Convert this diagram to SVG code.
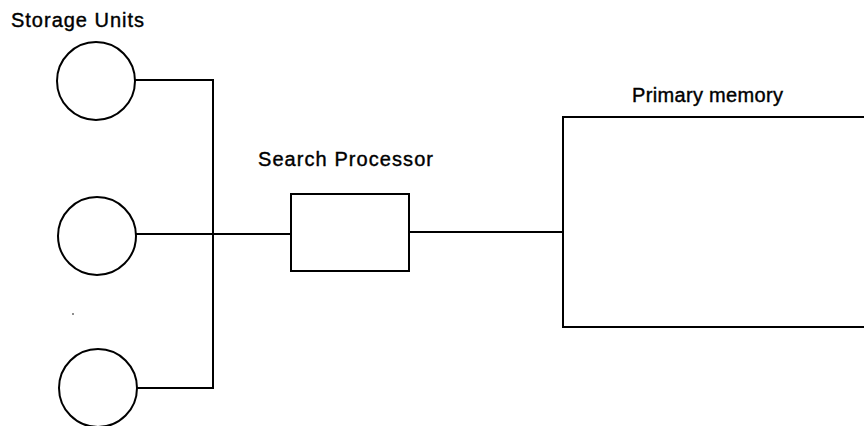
<svg xmlns="http://www.w3.org/2000/svg" width="864" height="426" viewBox="0 0 864 426">
<style>
.s{fill:none;stroke:#000;stroke-width:2}
.t{font-family:"Liberation Sans",Arial,sans-serif;font-size:20px;fill:#000;stroke:#000;stroke-width:0.4}
</style>
<rect width="864" height="426" fill="#fff"/>
<text class="t" x="11" y="27" textLength="133" lengthAdjust="spacing">Storage Units</text>
<g id="storage1"><circle class="s" cx="96" cy="81" r="39"/></g>
<g id="storage2"><circle class="s" cx="97" cy="236" r="39"/></g>
<g id="storage3"><circle class="s" cx="98" cy="388" r="39"/></g>
<circle cx="73" cy="314" r="0.8" fill="#000"/>
<g id="search"><rect class="s" x="291" y="194" width="118" height="77"/><text class="t" x="258" y="166" textLength="175" lengthAdjust="spacing">Search Processor</text></g>
<g id="primary"><rect class="s" x="563" y="117" width="310" height="210"/><text class="t" x="632" y="102" textLength="151" lengthAdjust="spacing">Primary memory</text></g>
<g id="connectors">
<polyline class="s" points="135,80 213,80 213,388 137,388"/>
<line class="s" x1="136" y1="234" x2="291" y2="234"/>
<line class="s" x1="409" y1="232" x2="563" y2="232"/>
</g>
</svg>
